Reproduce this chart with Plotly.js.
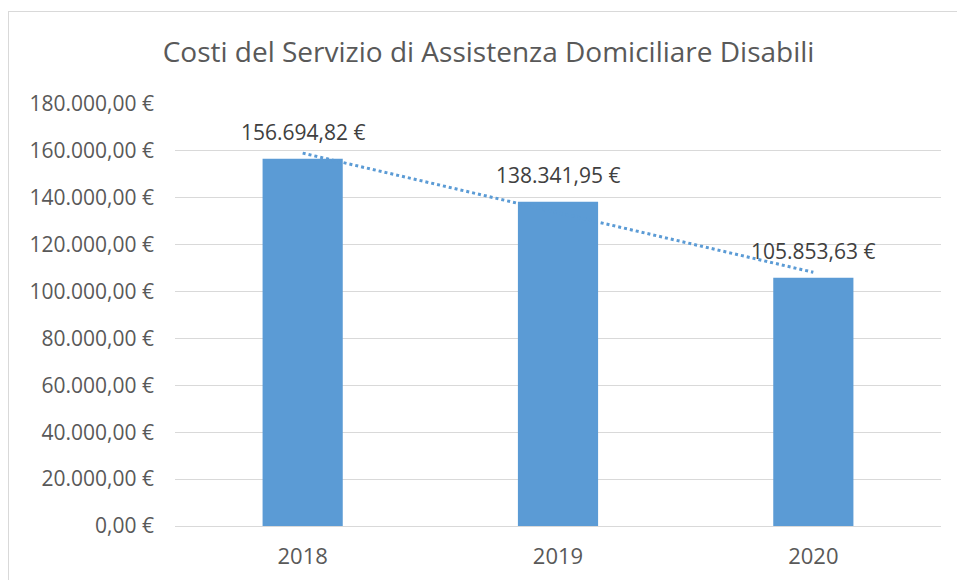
<!DOCTYPE html>
<html>
<head>
<meta charset="utf-8">
<script src="https://cdn.plot.ly/plotly-3.0.1.min.js"></script>
<style>
  html, body { margin: 0; padding: 0; background: #ffffff; }
  #frame { position: absolute; left: 8px; top: 11px; width: 960px; height: 600px; border: 1px solid #d9d9d9; pointer-events: none; z-index: 2; }
  #chart { position: absolute; left: 0; top: 0; width: 957px; height: 580px; }
</style>
</head>
<body>
<div id="chart"></div>
<div id="frame"></div>
<script>
// ---- data ----
const years = ['2018', '2019', '2020'];
const costs = [156694.82, 138341.95, 105853.63];
const costLabels = ['156.694,82 €', '138.341,95 €', '105.853,63 €'];
const yTickVals = [0, 20000, 40000, 60000, 80000, 100000, 120000, 140000, 160000, 180000];
const yTickText = ['0,00 €', '20.000,00 €', '40.000,00 €', '60.000,00 €', '80.000,00 €',
                   '100.000,00 €', '120.000,00 €', '140.000,00 €', '160.000,00 €', '180.000,00 €'];
const chartTitle = 'Costi del Servizio di Assistenza Domiciliare Disabili';

// linear trendline (least squares, as Excel's linear trend)
const n = costs.length;
const xs = costs.map((_, i) => i + 1);
const mx = xs.reduce((a, b) => a + b, 0) / n;
const my = costs.reduce((a, b) => a + b, 0) / n;
let sxy = 0, sxx = 0;
for (let i = 0; i < n; i++) { sxy += (xs[i] - mx) * (costs[i] - my); sxx += (xs[i] - mx) ** 2; }
const slope = sxy / sxx;
const intercept = my - slope * mx;
const trend = xs.map(x => intercept + slope * x);

const font = '"Open Sans", "DejaVu Sans", sans-serif';

const traces = [
  {
    type: 'bar',
    x: years,
    y: costs,
    marker: { color: '#5b9bd5' },
    hoverinfo: 'none'
  },
  {
    type: 'scatter',
    mode: 'lines',
    x: years,
    y: trend,
    line: { color: '#5b9bd5', width: 3, dash: 'dot' },
    hoverinfo: 'none'
  }
];

const annotations = costs.map((v, i) => ({
  x: i, y: v, xref: 'x', yref: 'y',
  text: costLabels[i], showarrow: false,
  xanchor: 'center', yanchor: 'bottom', yshift: 11,
  font: { family: font, size: 21, color: '#404040' }
}));

const layout = {
  width: 957,
  height: 580,
  margin: { l: 175, r: 16, t: 104, b: 54 },
  paper_bgcolor: 'rgba(0,0,0,0)',
  plot_bgcolor: '#ffffff',
  showlegend: false,
  bargap: 0.686,
  annotations: annotations,
  title: {
    text: chartTitle,
    font: { family: font, size: 28, color: '#595959' },
    x: 0.5105, xref: 'container', xanchor: 'center',
    y: 0.91, yref: 'container', yanchor: 'middle'
  },
  xaxis: {
    type: 'category',
    categoryarray: years,
    range: [-0.5, 2.5],
    showgrid: false,
    zeroline: false,
    showline: false,
    ticks: '',
    tickfont: { family: font, size: 22, color: '#595959' },
    ticklabelstandoff: 15
  },
  yaxis: {
    range: [0, 180000],
    tickvals: yTickVals,
    ticktext: yTickText,
    showgrid: true,
    gridcolor: '#d9d9d9',
    gridwidth: 1,
    zeroline: true,
    zerolinecolor: '#d9d9d9',
    zerolinewidth: 1,
    showline: false,
    ticks: '',
    tickfont: { family: font, size: 21, color: '#595959' },
    ticklabelstandoff: 20
  }
};

Plotly.newPlot('chart', traces, layout, { displayModeBar: false, staticPlot: true });
</script>
</body>
</html>
